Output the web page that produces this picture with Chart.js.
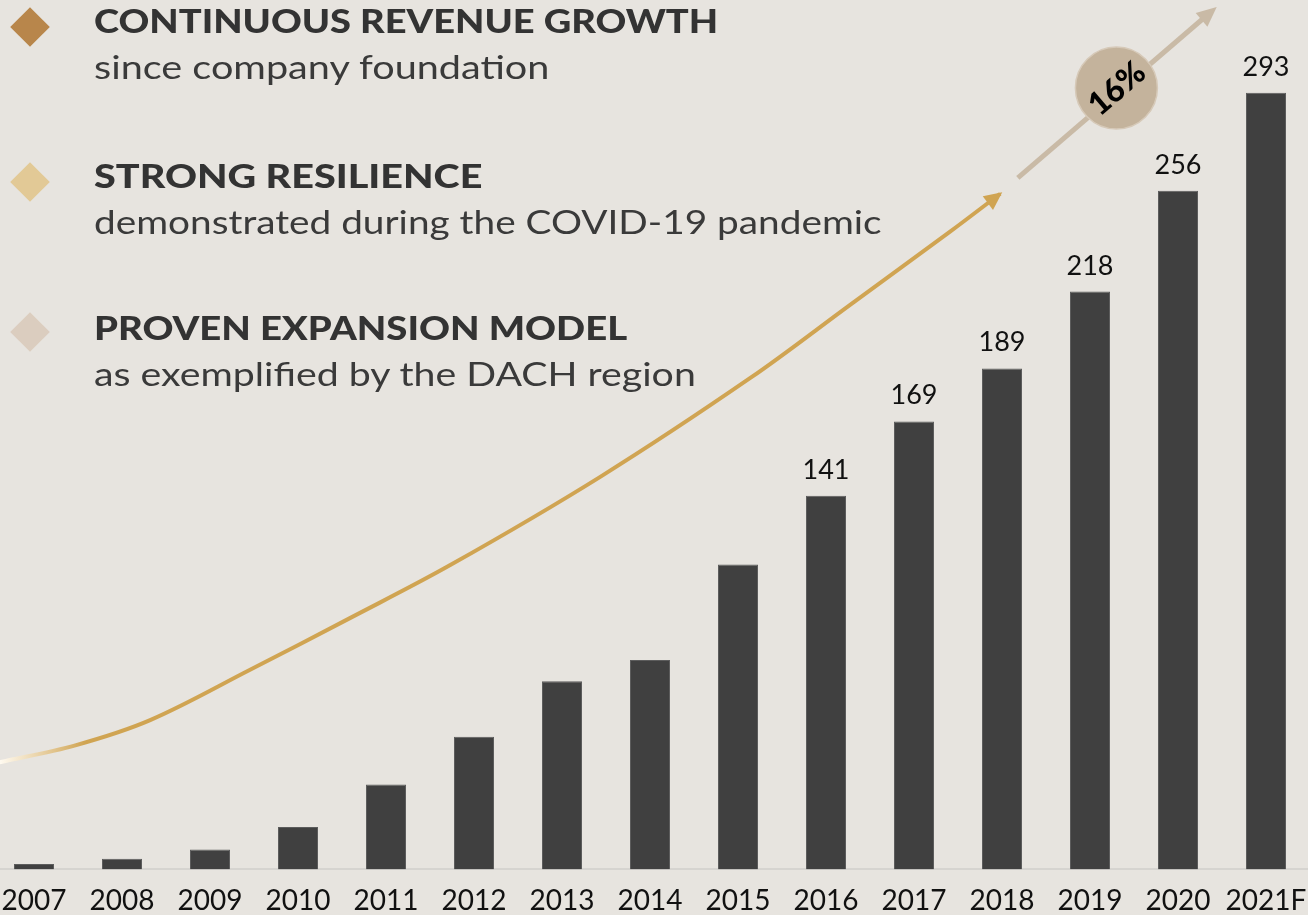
<!DOCTYPE html>
<html>
<head>
<meta charset="utf-8">
<title>Revenue growth</title>
<script src="https://cdn.jsdelivr.net/npm/chart.js@4.4.0/dist/chart.umd.min.js"></script>
<style>
    html, body { margin: 0; padding: 0; }
    body {
        width: 1308px;
        height: 915px;
        background: #e7e4df;
        position: relative;
        overflow: hidden;
        font-family: Lato, sans-serif;
    }
    #chart-wrap { position: absolute; left: -10px; top: 0; width: 1320px; height: 933px; }
    .point { position: absolute; left: 94px; z-index: 2; white-space: nowrap; }
    .point h2, .point p { transform-origin: 0 0; transform: scaleX(var(--sx)); }
    .point h2 { margin: 0; font-size: 33px; font-weight: 900; color: #333; line-height: 1; }
    .point p { margin: 13px 0 0 0; font-size: 33px; font-weight: 400; color: #3a3a3a; line-height: 1; }
    .diamond { position: absolute; left: 16px; width: 28px; height: 28px; transform: rotate(45deg); z-index: 2; }
</style>
</head>
<body>
<div class="diamond" style="top: 13px; background: #b8864b;"></div>
<div class="point" style="top: 4px;">
    <h2 style="--sx: 1.152">CONTINUOUS REVENUE GROWTH</h2>
    <p style="--sx: 1.2">since company foundation</p>
</div>

<div class="diamond" style="top: 168px; background: #e2c996;"></div>
<div class="point" style="top: 159px;">
    <h2 style="--sx: 1.198">STRONG RESILIENCE</h2>
    <p style="--sx: 1.175">demonstrated during the COVID-19 pandemic</p>
</div>

<div class="diamond" style="top: 318px; background: #dbcdbf;"></div>
<div class="point" style="top: 311px;">
    <h2 style="--sx: 1.159">PROVEN EXPANSION MODEL</h2>
    <p style="--sx: 1.19">as exemplified by the DACH region</p>
</div>

<div id="chart-wrap"><canvas id="revenue-chart" width="1320" height="933"></canvas></div>

<script>
// revenue per year
const years = ['2007', '2008', '2009', '2010', '2011', '2012', '2013', '2014', '2015', '2016', '2017', '2018', '2019', '2020', '2021F'];
const revenue = [2, 4, 7.5, 16, 32, 50, 71, 79, 115, 141, 169, 189, 218, 256, 293];
const firstLabelled = 9; // values are printed from 2016 on

// golden growth curve: [year index, value]
const trendX = [-0.39, 0.47, 1.32, 2.45, 3.59, 4.73, 6.43, 8.14, 9.27, 10.41, 10.98];
const trendY = [40.4, 46.8, 56.3, 75.2, 94.8, 114.8, 148, 185.4, 212.9, 240.6, 254.9];

// growth rate arrow: start, badge, tip as [year index, value]
const cagrStart = [11.18, 260.9];
const cagrBadge = [12.30, 294.8];
const cagrTip = [13.44, 325.4];
const cagrLabel = '16%';

const GOLD = '#d0a452';
const TAUPE = '#c9baa6';

function drawArrowHead(c, x, y, angle, len, width, color) {
    c.save();
    c.translate(x, y);
    c.rotate(angle);
    c.beginPath();
    c.moveTo(0, 0);
    c.lineTo(-len, -width / 2);
    c.lineTo(-len, width / 2);
    c.closePath();
    c.fillStyle = color;
    c.fill();
    c.restore();
}

const decorations = {
    id: 'decorations',
    afterDatasetsDraw(chart) {
        const c = chart.ctx;
        const xs = chart.scales.xt;
        const ys = chart.scales.y;

        // arrow head at the end of the curve
        const n = trendX.length;
        const px1 = xs.getPixelForValue(trendX[n - 2]);
        const py1 = ys.getPixelForValue(trendY[n - 2]);
        const px2 = xs.getPixelForValue(trendX[n - 1]);
        const py2 = ys.getPixelForValue(trendY[n - 1]);
        drawArrowHead(c, px2 + 2, py2 - 1.5, Math.atan2(py2 - py1, px2 - px1), 18, 17, GOLD);

        // growth rate arrow with badge
        const sx = xs.getPixelForValue(cagrStart[0]);
        const sy = ys.getPixelForValue(cagrStart[1]);
        const tx = xs.getPixelForValue(cagrTip[0]);
        const ty = ys.getPixelForValue(cagrTip[1]);
        const angle = Math.atan2(ty - sy, tx - sx);
        c.save();
        c.strokeStyle = TAUPE;
        c.lineWidth = 5;
        c.beginPath();
        c.moveTo(sx, sy);
        c.lineTo(tx - Math.cos(angle) * 14, ty - Math.sin(angle) * 14);
        c.stroke();
        c.restore();
        drawArrowHead(c, tx, ty, angle, 20, 18, TAUPE);

        const bx = xs.getPixelForValue(cagrBadge[0]);
        const by = ys.getPixelForValue(cagrBadge[1]);
        c.save();
        c.beginPath();
        c.arc(bx, by, 41, 0, Math.PI * 2);
        c.fillStyle = '#c4b39c';
        c.fill();
        c.strokeStyle = '#d6c9b8';
        c.lineWidth = 1.5;
        c.stroke();
        c.translate(bx, by);
        c.rotate(angle);
        c.fillStyle = '#000';
        c.font = '900 32px Lato';
        c.textAlign = 'center';
        c.textBaseline = 'middle';
        c.fillText(cagrLabel, 0, 1);
        c.restore();

        // values above the recent bars
        const meta = chart.getDatasetMeta(0);
        c.save();
        c.fillStyle = '#111';
        c.font = '400 27px Lato';
        c.textAlign = 'center';
        c.textBaseline = 'alphabetic';
        meta.data.forEach((bar, i) => {
            if (i < firstLabelled) return;
            c.fillText(String(revenue[i]), bar.x, bar.y - 17);
        });
        c.restore();
    }
};

const ctx = document.getElementById('revenue-chart').getContext('2d');

new Chart(ctx, {
    type: 'bar',
    data: {
        labels: years,
        datasets: [{
            type: 'bar',
            data: revenue,
            backgroundColor: '#404040',
            borderColor: '#5c5c5c',
            borderWidth: 1,
            grouped: false,
            maxBarThickness: 40,
            order: 2
        }, {
            type: 'line',
            xAxisID: 'xt',
            data: trendX.map((x, i) => ({ x: x, y: trendY[i] })),
            borderColor: (context) => {
                const area = context.chart.chartArea;
                if (!area) return GOLD;
                const g = context.chart.ctx.createLinearGradient(area.left + 10, 0, area.left + 95, 0);
                g.addColorStop(0, '#fffaf0');
                g.addColorStop(1, GOLD);
                return g;
            },
            borderWidth: 4,
            pointRadius: 0,
            tension: 0.35,
            clip: false,
            order: 1
        }]
    },
    options: {
        responsive: false,
        animation: false,
        layout: { padding: 0 },
        scales: {
            x: {
                type: 'category',
                offset: true,
                grid: { display: false, drawTicks: false },
                border: { display: true, color: '#d6d4d0', width: 2 },
                ticks: {
                    color: '#111',
                    font: { family: 'Lato', size: 28 },
                    padding: 15,
                    maxRotation: 0,
                    autoSkip: false
                },
                // the outer labels may overhang the plot edges
                afterFit(scale) {
                    scale.paddingLeft = 0;
                    scale.paddingRight = 0;
                }
            },
            xt: {
                type: 'linear',
                display: false,
                offset: false,
                min: -0.5,
                max: 14.5
            },
            y: {
                display: false,
                min: 0,
                max: 328
            }
        },
        plugins: {
            legend: { display: false },
            tooltip: { enabled: false }
        }
    },
    plugins: [decorations]
});
</script>
</body>
</html>
